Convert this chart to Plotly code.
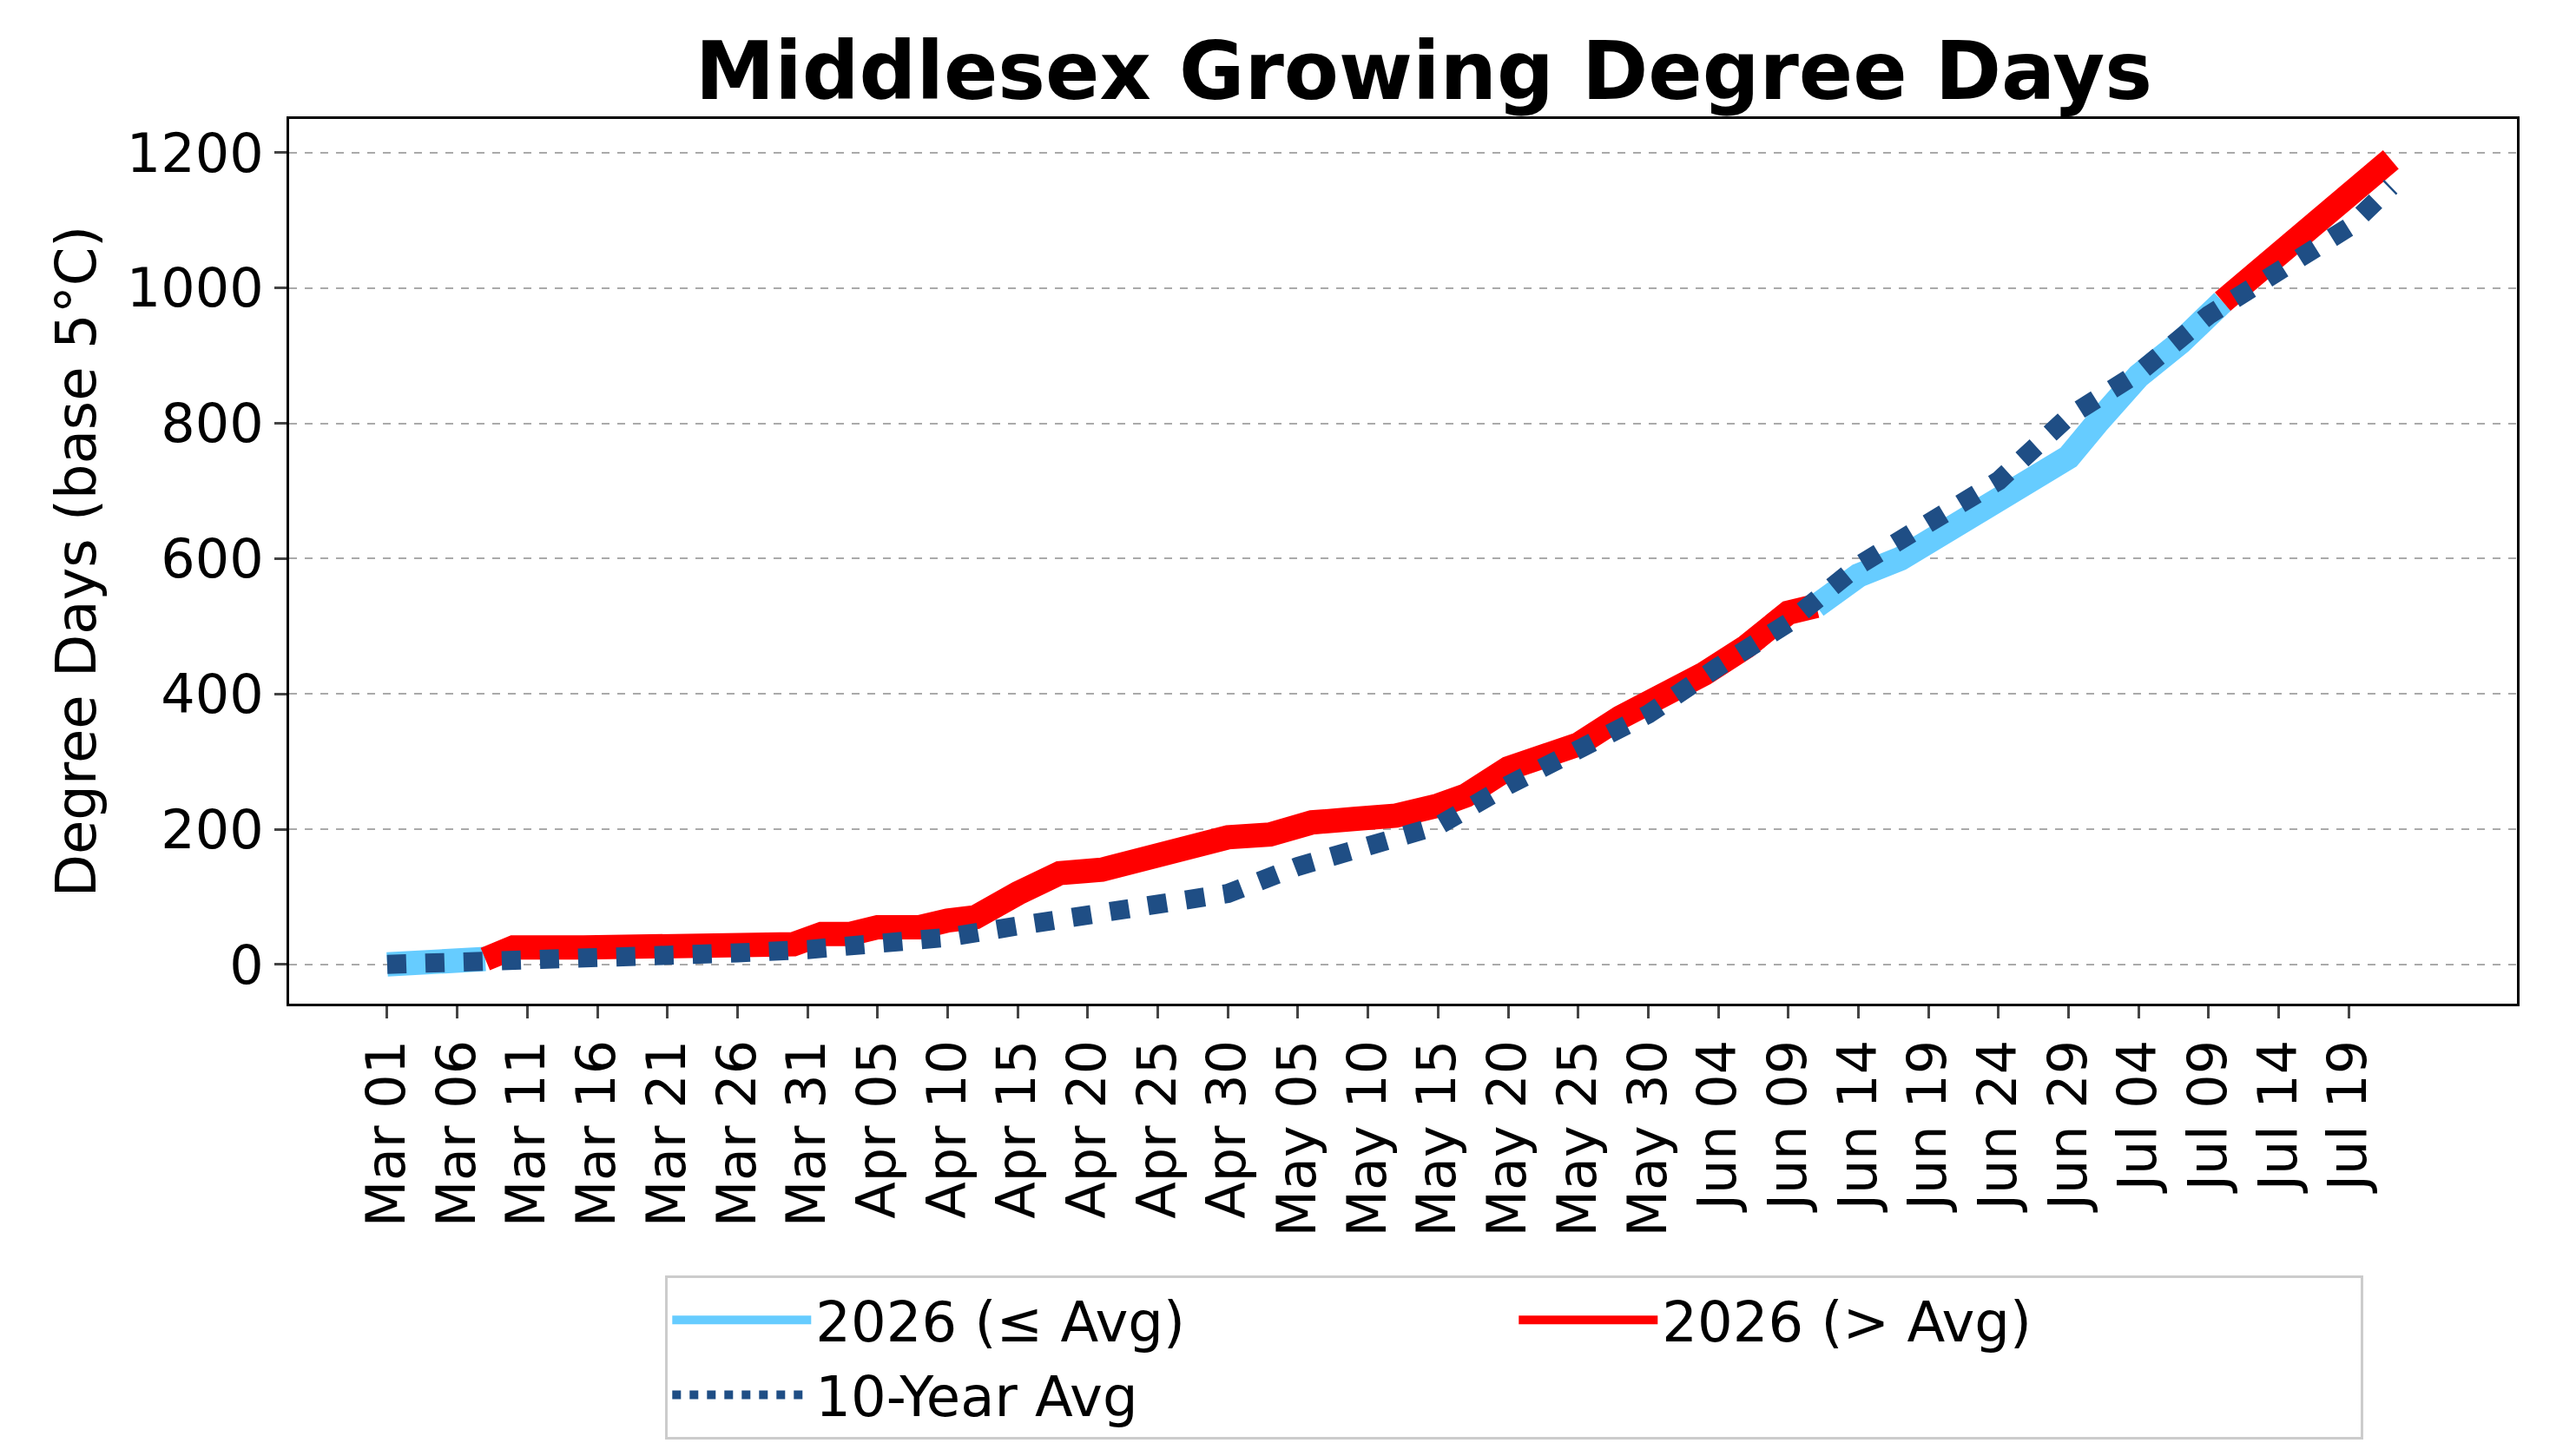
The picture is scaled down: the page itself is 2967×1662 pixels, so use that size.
import numpy as np
import pandas as pd
import plotly.graph_objects as go

# 2026 cumulative GDD (base 5C)
dates_2026 = ["03-01", "03-06", "03-08", "03-10", "03-15", "03-20", "03-25", "03-30", "04-01", "04-03",
              "04-05", "04-08", "04-10", "04-12", "04-15", "04-18", "04-21", "04-24", "04-27", "04-30",
              "05-03", "05-06", "05-09", "05-12", "05-15", "05-17", "05-20", "05-23", "05-25", "05-28",
              "05-31", "06-03", "06-06", "06-09", "06-11", "06-14", "06-17", "06-20", "06-23", "06-26",
              "06-29", "07-01", "07-04", "07-07", "07-10", "07-13", "07-16", "07-19", "07-22"]
gdd_2026 = [0, 0, 8, 25, 25, 25, 27, 30, 45, 45,
            55, 55, 65, 70, 105, 135, 140, 158, 170, 188,
            192, 210, 215, 220, 235, 250, 290, 310, 325, 365,
            395, 430, 470, 520, 530, 575, 600, 635, 670, 705,
            750, 800, 870, 920, 980, 1030, 1090, 1140, 1190]

# 10-year average
dates_avg = ["03-01", "03-06", "03-11", "03-16", "03-21", "03-26", "03-31", "04-05", "04-10", "04-15",
             "04-20", "04-25", "04-30", "05-05", "05-10", "05-15", "05-20", "05-25", "05-30", "06-04",
             "06-09", "06-14", "06-19", "06-24", "06-29", "07-04", "07-09", "07-14", "07-19", "07-22"]
gdd_avg = [0, 2, 5, 10, 14, 17, 22, 30, 40, 57,
           72, 88, 105, 145, 175, 205, 265, 320, 370, 440,
           505, 590, 650, 715, 810, 875, 960, 1025, 1090, 1150]

x26 = pd.to_datetime(["2026-" + d for d in dates_2026])
xav = pd.to_datetime(["2026-" + d for d in dates_avg])

# classify 2026 points against the average
avg_at = np.interp(x26.astype("int64"), xav.astype("int64"), gdd_avg)
above = np.array(gdd_2026) > avg_at

fig = go.Figure()
start = 0
shown = {True: False, False: False}
for i in range(1, len(x26) + 1):
    if i == len(x26) or above[i] != above[start]:
        end = min(i + 1, len(x26))
        flag = bool(above[start])
        fig.add_trace(go.Scatter(
            x=x26[start:end], y=gdd_2026[start:end], mode="lines",
            line=dict(color="#ff0000" if flag else "#66ccff", width=28),
            name="2026 (> Avg)" if flag else "2026 (≤ Avg)",
            legendgroup=str(flag), showlegend=not shown[flag],
            legendrank=2 if flag else 1))
        shown[flag] = True
        start = i

fig.add_trace(go.Scatter(x=xav, y=gdd_avg, mode="lines", name="10-Year Avg",
                         line=dict(color="#1f4e85", width=22, dash="dot"), legendrank=3))

ticks = pd.date_range("2026-03-01", "2026-07-22", freq="5D")
fig.update_layout(
    width=2967, height=1662,
    paper_bgcolor="white", plot_bgcolor="white",
    font=dict(family="DejaVu Sans", size=62, color="black"),
    title=dict(text="<b>Middlesex Growing Degree Days</b>", x=0.55, xanchor="center",
               y=0.975, font=dict(size=92)),
    margin=dict(l=325, r=76, t=129, b=504),
    legend=dict(orientation="h", x=0.55, xanchor="center", y=-0.40, yanchor="middle",
                bordercolor="#cccccc", borderwidth=3, font=dict(size=64),
                itemwidth=160, entrywidth=800, traceorder="normal"),
    xaxis=dict(range=[pd.Timestamp("2026-02-22"), pd.Timestamp("2026-07-31")],
               tickvals=ticks, ticktext=[t.strftime("%b %d") for t in ticks],
               tickangle=-90, showline=True, linecolor="black", linewidth=3, mirror=True,
               ticks="outside", ticklen=14, tickwidth=3, showgrid=False),
    yaxis=dict(range=[-58, 1250], tickvals=[0, 200, 400, 600, 800, 1000, 1200],
               title=dict(text="Degree Days (base 5°C)", font=dict(size=64)),
               showline=True, linecolor="black", linewidth=3, mirror=True,
               ticks="outside", ticklen=14, tickwidth=3, zeroline=False,
               gridcolor="#aaaaaa", griddash="dash", gridwidth=2),
)
fig.write_html("out.html")
